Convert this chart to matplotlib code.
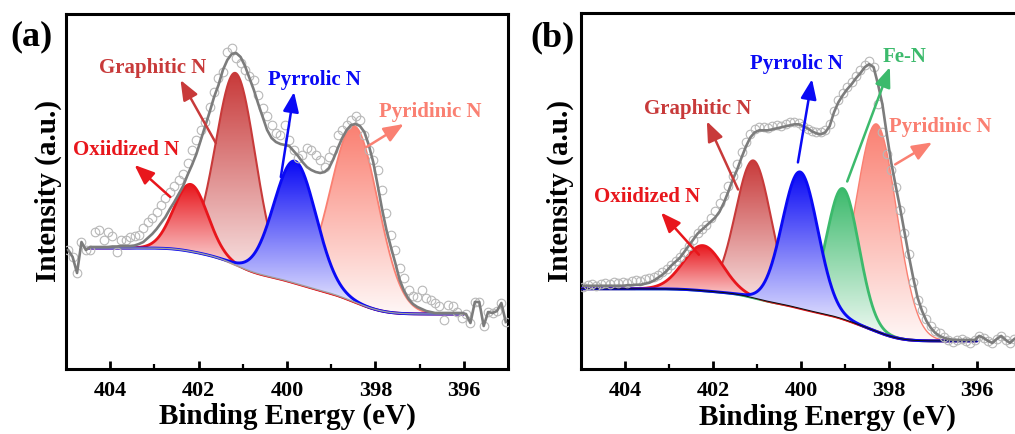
import numpy as np
import matplotlib
matplotlib.use("Agg")
import matplotlib.pyplot as plt
from matplotlib.colors import LinearSegmentedColormap, to_rgb

plt.rcParams["font.family"] = ["Liberation Serif", "DejaVu Serif"]
plt.rcParams["font.weight"] = "bold"

# binding energy grid of the measured spectra (eV), step 0.1
be = np.round(np.arange(404.95, 395.0, -0.1), 2)

# ---------------- sample (a) ----------------
raw_a = [119, 112, 96, 127, 119, 119, 137, 139, 129, 137,
         133, 117, 129, 129, 132, 133, 134, 141, 147, 151,
         157, 164, 171, 177, 183, 189, 195, 206, 219, 229,
         239, 247, 262, 277, 291, 297, 317, 321, 311, 306,
         299, 293, 289, 274, 261, 253, 244, 236, 234, 244,
         229, 219, 211, 214, 221, 219, 214, 209, 202, 212,
         219, 234, 239, 244, 249, 253, 249, 234, 219, 209,
         199, 179, 156, 134, 119, 101, 91, 79, 73, 72,
         79, 71, 69, 66, 63, 49, 64, 63, 57, 51,
         55, 46, 67, 67, 43, 57, 56, 58, 66, 47]
# fitted envelope, 404.45 -> 396.05 eV
fit_a = [122, 122, 122, 122, 122, 122.5, 122.5, 123, 123, 123,
         123.5, 125, 127, 131, 135, 140, 146, 152, 160, 167,
         175, 183, 194, 204, 215, 229, 243, 257, 272, 284,
         299, 309, 315, 316, 312, 303, 291, 279, 265, 252,
         239, 231, 227, 225, 224, 223, 218, 213, 207, 202,
         199, 197, 196, 197, 201, 210, 221, 231, 239, 244,
         245, 243, 237, 224, 207, 184, 160, 139, 122, 106,
         89, 78, 70, 65, 62, 60, 58, 57, 56, 56,
         56, 56, 56, 56, 56]
fit_range_a = (404.5, 396.0)
bg_ends_a = (121, 55)
names_a = ["Oxiidized N", "Graphitic N", "Pyrrolic N", "Pyridinic N"]
center_a = [402.18, 401.16, 399.82, 398.47]
height_a = [67, 192, 122, 176]
fwhm_a = [0.90, 1.05, 1.12, 1.26]

# ---------------- sample (b) ----------------
raw_b = [82, 84, 85, 83, 85, 86, 85, 87, 86, 87,
         86, 88, 89, 88, 90, 91, 92, 94, 97, 100,
         104, 108, 112, 117, 123, 129, 136, 140, 144, 151,
         158, 166, 173, 182, 192, 204, 216, 226, 234, 239,
         241, 241, 240, 242, 243, 242, 244, 246, 246, 245,
         242, 239, 237, 236, 236, 238, 244, 257, 268, 275,
         281, 286, 292, 298, 303, 307, 301, 264, 236, 214,
         198, 181, 159, 136, 115, 87, 69, 59, 50, 43,
         38, 36, 32, 29, 27, 29, 30, 28, 26, 29,
         33, 31, 28, 26, 30, 33, 29, 26, 30, 32]
# fitted envelope, 404.95 -> 396.05 eV
fit_b = [83, 83, 83, 83, 83, 83, 83, 83, 83, 83,
         83.5, 83.5, 84, 84, 85, 86, 88, 91, 94, 98,
         103, 107, 111, 117, 123, 129, 135, 139, 143, 147,
         151, 157, 166, 177, 189, 199, 211, 222, 231, 236,
         238, 238, 238, 239, 240, 241, 242, 243, 244, 244,
         242, 240, 237, 235, 234, 236, 242, 256, 266, 273,
         279, 284, 290, 295, 301, 304, 301, 284, 264, 234,
         206, 183, 161, 137, 113, 91, 71, 58, 48, 41,
         36, 33, 31, 30, 29, 29, 29, 29, 29, 29]
fit_range_b = (405.0, 396.0)
bg_ends_b = (80, 28)
names_b = ["Oxiidized N", "Graphitic N", "Pyrrolic N", "Fe-N", "Pyridinic N"]
center_b = [402.23, 401.08, 400.02, 399.05, 398.28]
height_b = [45, 137, 136, 130, 207]
fwhm_b = [1.05, 0.95, 0.95, 0.86, 1.08]

colors = {"Oxiidized N": "#e8161c", "Graphitic N": "#c83a3a",
          "Pyrrolic N": "#0a0af5", "Pyridinic N": "#fa8072", "Fe-N": "#3cba6c"}

# arrows: (tail, tip, text position) in data coordinates
notes_a = {"Oxiidized N": ((402.64, 172), (403.45, 204), (403.64, 219)),
           "Graphitic N": ((401.61, 226), (402.41, 289), (403.05, 301)),
           "Pyrrolic N": ((400.14, 192), (399.84, 277), (399.39, 289)),
           "Pyridinic N": ((398.20, 222), (397.36, 245), (396.76, 257))}
notes_b = {"Oxiidized N": ((402.32, 114), (403.18, 156), (403.50, 172)),
           "Graphitic N": ((401.43, 179), (402.14, 247), (402.34, 259)),
           "Pyrrolic N": ((400.07, 206), (399.75, 289), (400.11, 304)),
           "Fe-N": ((398.95, 187), (397.98, 301), (397.64, 311)),
           "Pyridinic N": ((397.86, 204), (397.02, 226), (396.84, 241))}


def gauss(x, c, h, w):
    s = w / 2.3548
    return h * np.exp(-0.5 * ((x - c) / s) ** 2)


def shirley(x, comps, hi, lo):
    # x runs from high to low binding energy
    tot = comps.sum(axis=0)
    cum = np.cumsum(tot[::-1])[::-1]
    return lo + (hi - lo) * cum / cum[0]


def fill_peak(ax, x, bg, y, color, lw, z, w):
    top = bg + y
    poly = ax.fill_between(x, bg, top, facecolor="none", edgecolor="none", zorder=z)
    c = np.array(to_rgb(color))
    light = c + (1 - c) * 0.94
    cmap = LinearSegmentedColormap.from_list("grad", [light, c])
    xc = x[np.argmax(y)]
    win = np.abs(x - xc) < 2.0 * w
    im = ax.imshow(np.linspace(0, 1, 256).reshape(-1, 1), cmap=cmap, aspect="auto",
                   origin="lower", interpolation="bilinear",
                   extent=(x[win].max(), x[win].min(), bg[win].min(), top.max()), zorder=z)
    im.set_clip_path(poly.get_paths()[0], transform=ax.transData)
    ax.plot(x, top, color=color, lw=lw, zorder=z + 0.1, solid_capstyle="round")


def panel(ax, raw, fit, fit_range, bg_ends, names, centers, heights, fwhms,
          order, lws, notes, base_color, base_lw):
    raw = np.array(raw, dtype=float)
    hi_e, lo_e = fit_range
    inside = (be < hi_e) & (be > lo_e)
    xf = np.linspace(hi_e, lo_e, 901)
    comps = np.array([gauss(xf, c, h, w) for c, h, w in zip(centers, heights, fwhms)])
    bg = shirley(xf, comps, *bg_ends)

    ax.plot(xf, bg, color=base_color, lw=base_lw, zorder=1)
    for k, i in enumerate(order):
        fill_peak(ax, xf, bg, comps[i], colors[names[i]], lws[i], 2 + k, fwhms[i])
    ax.plot(xf, bg, color=base_color, lw=base_lw * 0.6, zorder=9)

    # envelope inside the fit window, raw trace outside it
    first = np.argmax(inside)
    last = first + inside.sum()
    line_x = np.concatenate([be[:first], be[inside], be[last:]])
    line_y = np.concatenate([raw[:first], np.array(fit, dtype=float), raw[last:]])
    ax.plot(be, raw, "o", ms=6.2, mfc="none", mec="#b8b8b8", mew=0.8, zorder=20)
    ax.plot(line_x, line_y, color="#7c7c7c", lw=1.9, zorder=21)

    for name, (tail, tip, txt) in notes.items():
        col = colors[name]
        ax.annotate("", xy=tip, xytext=tail, zorder=30,
                    arrowprops=dict(arrowstyle="-|>,head_length=0.75,head_width=0.3",
                                    color=col, lw=1.8, shrinkA=0, shrinkB=0,
                                    mutation_scale=16))
        ax.text(txt[0], txt[1], name, color=col, fontsize=15, fontweight="bold",
                ha="center", va="center", zorder=31)

    ax.set_xlim(405, 395)
    ax.set_ylim(0, 355)
    ax.set_xticks([404, 402, 400, 398, 396])
    ax.set_xticks([403, 401, 399, 397], minor=True)
    ax.set_yticks([])
    ax.tick_params(axis="x", which="major", direction="in", length=6, width=2,
                   labelsize=16, pad=9, top=False)
    ax.tick_params(axis="x", which="minor", direction="in", length=3.5, width=1.6,
                   top=False)
    for s in ax.spines.values():
        s.set_linewidth(2.2)
    ax.set_xlabel("Binding Energy (eV)", fontsize=21, fontweight="bold")
    ax.set_ylabel("Intensity (a.u.)", fontsize=21, fontweight="bold")
    ax.xaxis.label.set_va("center")
    ax.yaxis.label.set_va("center")


fig = plt.figure(figsize=(10.15, 4.34), dpi=100)
ax1 = fig.add_axes([66 / 1015, 65 / 434, 442 / 1015, 355 / 434])
ax2 = fig.add_axes([581 / 1015, 65 / 434, 440 / 1015, 356 / 434])

panel(ax1, raw_a, fit_a, fit_range_a, bg_ends_a, names_a, center_a, height_a, fwhm_a,
      order=[1, 3, 0, 2], lws=[2.0, 1.5, 2.1, 1.3], notes=notes_a,
      base_color="#a0a0a0", base_lw=1.6)
panel(ax2, raw_b, fit_b, fit_range_b, bg_ends_b, names_b, center_b, height_b, fwhm_b,
      order=[1, 4, 3, 0, 2], lws=[2.0, 1.5, 2.1, 2.0, 1.0], notes=notes_b,
      base_color="#111111", base_lw=1.3)

ax1.xaxis.set_label_coords(0.5, -0.133)
ax1.yaxis.set_label_coords(-0.040, 0.5)
ax2.xaxis.set_label_coords(0.559, -0.135)
ax2.yaxis.set_label_coords(-0.046, 0.5)

fig.text(31 / 1015, 1 - 37 / 434, "(a)", fontsize=26, fontweight="bold", ha="center", va="center")
fig.text(552 / 1015, 1 - 38 / 434, "(b)", fontsize=26, fontweight="bold", ha="center", va="center")

fig.savefig("out.png", dpi=100)
